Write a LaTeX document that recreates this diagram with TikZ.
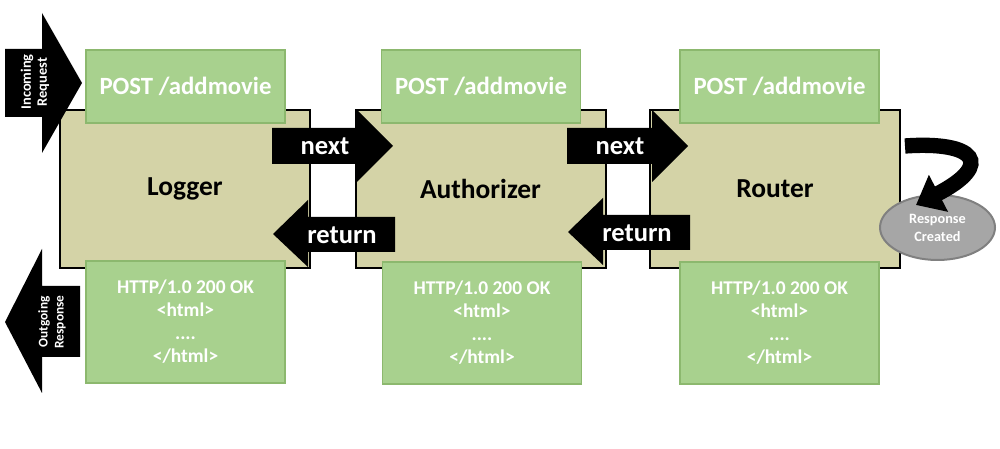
\documentclass[tikz,border=0pt]{standalone}
\usepackage{fontspec}
\setmainfont{Carlito}
\usetikzlibrary{shapes.geometric,arrows.meta}
\definecolor{stagetan}{RGB}{212,211,167}
\definecolor{msggreen}{RGB}{168,209,142}
\definecolor{msgline}{RGB}{140,184,110}
\definecolor{donegray}{RGB}{166,166,166}
\definecolor{doneline}{RGB}{128,128,128}
\begin{document}
\begin{tikzpicture}[x=0.75pt, y=0.75pt,
	stage/.style={draw, rectangle, line width=1.5pt, fill=stagetan, minimum width=187.5pt, minimum height=118.5pt, font=\fontsize{20.6}{24}\selectfont\bfseries},
	request/.style={draw=msgline, rectangle, line width=1.1pt, fill=msggreen, minimum width=149.25pt, minimum height=54.75pt, text=white, font=\fontsize{18.6}{22}\selectfont\bfseries},
	response/.style={draw=msgline, rectangle, line width=1.1pt, fill=msggreen, minimum width=149.25pt, minimum height=91.5pt, text=white, align=center, font=\fontsize{14.6}{17.3}\selectfont\bfseries},
	arrowlabel/.style={text=white, inner sep=0pt, font=\fontsize{19.9}{24}\selectfont\bfseries},
	sidelabel/.style={text=white, inner sep=0pt, rotate=90, align=center, font=\fontsize{10.8}{12}\selectfont\bfseries}]
				\useasboundingbox (0,0) rectangle (1000,449);

				% Stages
				\node[stage] (logger) at (185,260) {Logger};
				\node[stage] (authorizer) at (480.5,260) {Authorizer};
				\node[stage] (router) at (775,260) {Router};

				% Requests
				\node[request] (reqlogger) at (185.5,362.5) {POST /addmovie};
				\node[request] (reqauth) at (481,362.5) {POST /addmovie};
				\node[request] (reqrouter) at (779.5,362.5) {POST /addmovie};

				% Responses
				\node[response] (reslogger) at (185.5,127) {HTTP/1.0 200 OK\\<html>\\....\\</html>};
				\node[response] (resauth) at (482,126) {HTTP/1.0 200 OK\\<html>\\....\\</html>};
				\node[response] (resrouter) at (779.5,126) {HTTP/1.0 200 OK\\<html>\\....\\</html>};

				% Incoming request
				\fill (5,332) -- (42,332) -- (42,296) -- (82,366) -- (42,436) -- (42,400) -- (5,400) -- cycle;
				\node[sidelabel] (incoming) at (35,367) {Incoming\\Request};

				% Outgoing response
				\fill (5,127) -- (42,200) -- (42,163) -- (80,163) -- (80,92) -- (42,92) -- (42,56) -- cycle;
				\node[sidelabel, font=\fontsize{10}{12}\selectfont\bfseries] (outgoing) at (52,127) {Outgoing\\Response};

				% Next
				\fill (272,285) -- (272,321) -- (357,321) -- (357,339) -- (393,303) -- (357,267) -- (357,285) -- cycle;
				\node[arrowlabel] (next1) at (325,303) {next};
				\fill (567,285) -- (567,321) -- (652,321) -- (652,339) -- (688,303) -- (652,267) -- (652,285) -- cycle;
				\node[arrowlabel] (next2) at (620,303) {next};

				% Return
				\fill (273,215) -- (308,249) -- (308,232) -- (395,232) -- (395,197) -- (308,197) -- (308,182) -- cycle;
				\node[arrowlabel] (return1) at (342,214) {return};
				\fill (568,217) -- (603,251) -- (603,234) -- (690,234) -- (690,199) -- (603,199) -- (603,184) -- cycle;
				\node[arrowlabel] (return2) at (637,216) {return};

				% Response created
				\node[draw=doneline, ellipse, line width=1.5pt, fill=donegray, minimum width=86.25pt, minimum height=48.75pt, text=white, align=center, font=\fontsize{10.7}{13.5}\selectfont\bfseries] (created) at (937.5,221.5) {Response\\Created};
				\coordinate (turn) at (905,303);
				\coordinate (landing) at (916,244);
				\draw[line width=11.5pt, -{Triangle[width=30pt, length=19pt]}] (turn) .. controls (975,308) and (995,285) .. (landing);
\end{tikzpicture}
\end{document}
